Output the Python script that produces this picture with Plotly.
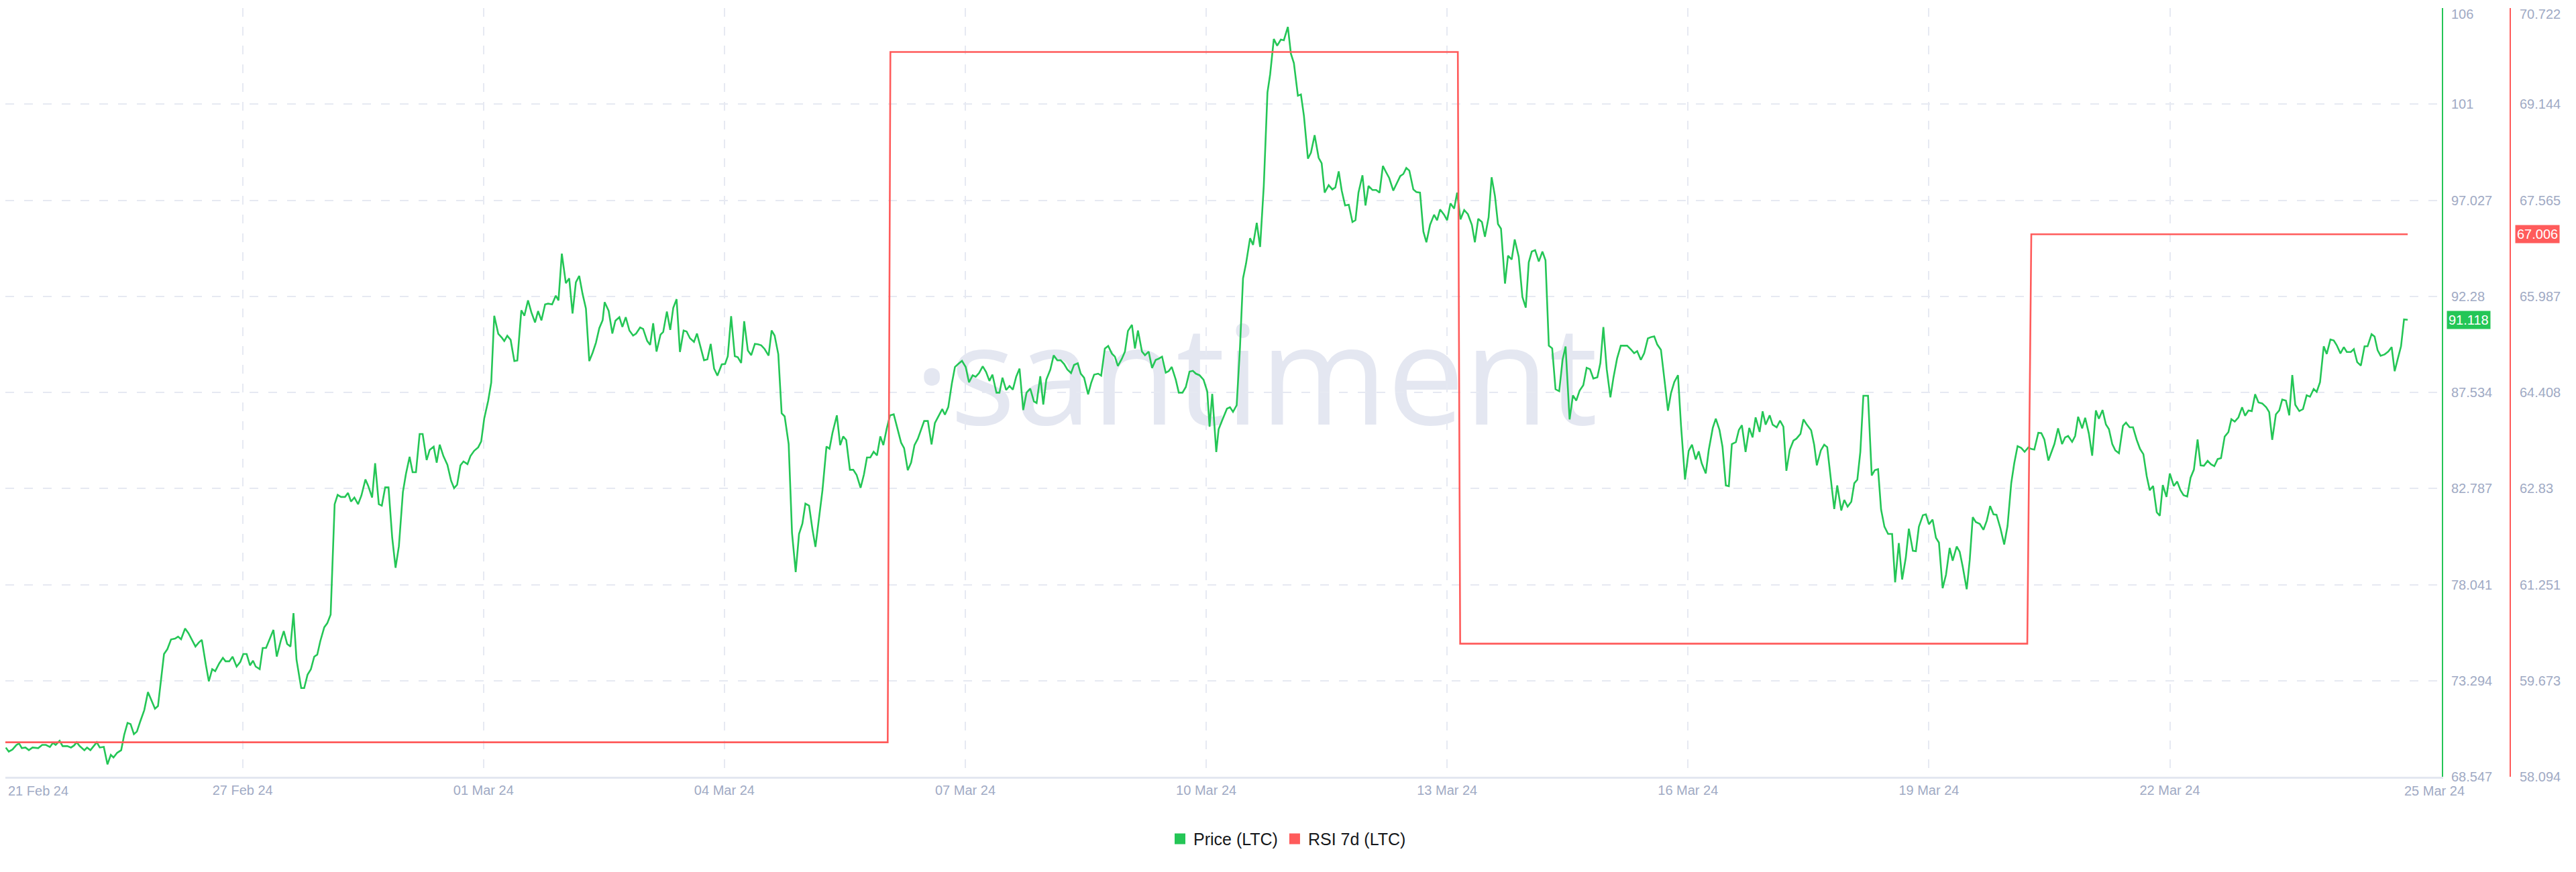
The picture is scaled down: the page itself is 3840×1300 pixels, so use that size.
import numpy as np
import pandas as pd
import plotly.graph_objects as go

# ---------------- data ----------------
START = pd.Timestamp("2024-02-24 00:00")

# hours elapsed since START for each price reading
price_hours = [
    1.2, 2.1, 3.2, 4.4, 5.2, 6.0, 7.1, 8.1, 9.2, 10.9,
    12.1, 13.2, 14.4, 15.3, 16.1, 17.3, 18.2, 19.6, 20.7, 21.6,
    22.4, 23.3, 24.7, 25.5, 26.5, 28.4, 29.3, 30.5, 31.6, 32.6,
    33.4, 34.5, 35.7, 36.6, 37.6, 38.5, 39.5, 40.4, 41.4, 42.6,
    43.7, 44.9, 45.8, 46.7, 47.6, 48.5, 49.5, 50.6, 51.8, 52.7,
    53.6, 54.8, 55.8, 56.9, 57.9, 58.9, 59.8, 61.0, 61.9, 62.9,
    63.8, 65.0, 66.1, 66.9, 68.0, 69.0, 70.2, 71.3, 72.2, 73.2,
    74.2, 75.1, 75.9, 77.1, 78.0, 79.0, 80.2, 81.2, 82.2, 83.4,
    84.3, 85.3, 86.3, 87.2, 88.1, 89.5, 90.4, 91.4, 92.4, 93.4,
    94.3, 95.2, 96.4, 97.3, 98.3, 99.5, 100.4, 101.4, 102.6, 103.5,
    104.4, 105.4, 106.5, 107.5, 108.7, 109.5, 110.7, 111.6, 112.7, 113.6,
    114.6, 115.6, 116.7, 117.7, 118.7, 119.9, 120.8, 121.9, 122.8, 123.8,
    124.9, 125.8, 127.0, 127.9, 129.1, 130.0, 130.9, 132.0, 133.2, 134.3,
    135.2, 136.1, 137.1, 138.0, 139.2, 140.1, 141.2, 142.4, 143.3, 144.2,
    145.4, 146.3, 147.2, 148.4, 149.5, 150.2, 151.1, 152.1, 153.2, 154.1,
    155.3, 156.2, 157.3, 158.3, 159.4, 160.3, 161.3, 162.4, 163.3, 164.5,
    165.6, 166.4,
    167.4, 168.6, 169.6, 170.6, 171.6, 172.6, 173.6, 174.6, 175.6, 176.6,
    177.6, 178.6, 179.6,
    180.2, 181.4, 182.5, 183.4, 184.6, 185.5, 186.5, 187.6, 188.7, 189.6,
    190.8, 191.7, 192.9, 193.8, 194.7, 195.7, 196.9, 197.7, 198.8, 199.8,
    200.7, 201.7, 202.7, 203.8, 204.7, 205.7, 206.9, 207.8, 208.9, 209.9,
    210.9, 211.9, 212.9, 213.9, 215.2, 216.2, 217.0, 218.0, 219.1, 220.0,
    221.0, 221.9, 223.0, 224.0, 225.1, 226.0, 227.0, 228.0, 229.2, 230.1,
    231.0, 232.1, 233.1, 234.0, 235.2, 236.2, 237.3, 238.3, 239.3, 240.2,
    241.3, 242.3, 243.2, 244.3, 245.3, 246.5, 247.4, 248.3, 249.6, 250.6,
    251.5, 252.4, 253.5, 254.5, 255.5, 256.7, 257.7, 258.6, 259.6, 260.6,
    261.6, 262.6, 263.5, 264.5, 265.5, 266.6, 267.6, 268.8, 269.7, 270.8,
    271.8, 272.8, 273.8, 274.7, 275.7, 276.8, 277.9, 278.9, 280.0, 281.1,
    281.9, 282.9, 284.0, 284.9, 285.9, 287.0, 288.1, 289.1, 290.2, 291.1,
    292.1, 293.2, 294.2, 295.2, 296.1, 297.3, 298.2, 299.1, 300.2, 301.2,
    302.2, 303.2, 304.2, 305.3, 306.3, 307.4, 308.5, 309.3, 310.4, 311.3,
    312.2, 313.4, 314.4, 315.5, 316.5, 317.5, 318.5, 319.6, 320.5, 321.6,
    322.5, 323.5, 324.7, 325.6, 326.5, 327.7, 328.6, 329.7, 330.7, 331.8,
    332.7, 333.6, 334.8, 335.7, 336.6, 337.8, 338.7, 339.6, 340.8, 341.7,
    342.8, 343.8, 344.9, 345.8, 346.8, 347.9, 348.8, 349.7, 350.9, 351.8,
    352.9, 353.9, 355.0, 356.0, 356.9, 358.0, 359.2, 360.3,
    361.0, 361.8, 363.0, 363.7, 364.8, 366.2, 367.1, 368.0, 369.1, 370.1,
    371.0, 371.9, 373.1, 374.0, 375.1, 376.1, 377.2, 378.3, 379.1, 380.2,
    381.2, 382.3, 383.2, 384.4, 385.3, 386.2, 387.4, 388.3, 389.2, 390.4,
    391.3, 392.4, 393.6, 394.5, 395.4, 396.6, 397.7, 398.6, 399.6, 400.5,
    401.5, 402.6, 403.7, 404.6, 405.5, 406.7, 407.6, 408.5, 409.7, 410.8,
    411.8, 412.8, 413.6, 414.7, 415.9, 417.0, 418.0, 418.9, 419.8, 420.7,
    421.9, 422.8, 423.9, 424.9, 425.8, 426.9, 428.1, 429.0, 429.9, 431.1,
    432.0, 433.0, 434.1, 435.0, 436.0, 437.1, 438.2, 439.4, 440.3, 441.3,
    442.4, 443.3, 444.4, 445.3, 446.3, 447.2, 448.1, 449.3, 450.2, 451.3,
    452.2, 453.4, 454.5, 455.5, 456.4, 457.3, 458.3, 459.4, 460.5, 461.4,
    462.4, 463.4, 464.4, 465.5, 466.5, 467.4, 468.6, 469.6, 470.6, 471.6,
    472.7, 473.7, 474.7, 475.7, 476.9, 477.8, 478.7, 479.7, 480.8, 481.7,
    482.8, 483.9, 485.8, 487.0, 487.9, 488.8, 489.9, 490.9, 492.0, 493.0,
    493.9, 494.8, 495.9, 497.1, 498.0, 498.9, 499.9, 501.0, 501.9, 503.1,
    504.2, 505.2, 506.3, 507.2, 508.1, 509.3, 510.2, 511.4, 512.3, 513.4,
    514.3, 515.3, 516.2, 517.1, 518.3, 519.2, 520.1, 521.2, 522.3, 523.3,
    524.2, 525.4, 526.3, 527.2, 528.4, 529.3, 530.5, 531.5, 532.5, 533.4,
    534.4, 535.5, 536.4, 537.6, 538.5, 539.4,
    540.8, 541.7, 542.5, 543.7, 544.7, 545.6, 546.6, 547.7, 548.6, 549.8,
    550.7, 551.7, 552.8, 553.7, 554.6, 555.5, 556.4, 557.8, 558.9, 559.8,
    560.8, 561.7, 562.7, 563.8, 565.0, 565.9, 567.0, 568.0, 569.1, 570.0,
    571.2, 572.1, 573.0, 574.2, 575.1, 576.0, 577.1, 578.1, 579.0, 580.1,
    581.1, 582.2, 583.1, 584.3, 585.2, 586.1, 587.3, 588.2, 589.1, 590.0,
    591.2, 592.3, 593.3, 594.3, 595.3, 596.2, 597.4, 598.5, 599.5, 600.6,
    601.5, 602.5, 603.6, 604.6, 605.7, 606.6, 607.5, 608.7, 609.6, 610.5,
    611.7, 612.6, 613.5, 614.6, 615.8, 616.7, 617.6, 618.8, 619.7, 620.6,
    621.8, 622.7, 623.8, 624.8, 625.9, 626.8, 627.9, 628.9, 629.8, 630.8,
    631.7, 632.8, 634.0, 634.9, 636.0, 637.0, 638.1, 639.1, 640.1, 641.1,
    642.0, 643.0, 644.1, 645.0, 645.9, 647.0, 648.0, 649.2, 650.2, 651.2,
    652.1, 653.2, 654.2, 655.2, 656.3, 657.2, 658.2, 659.3, 660.3, 661.3,
    662.3, 663.3, 664.4, 665.5, 666.4, 667.4, 668.5, 669.6, 670.5, 671.5,
    672.5, 673.5, 674.5, 675.6, 676.8, 677.7, 678.6, 679.7, 680.7, 681.6,
    682.7, 683.7, 684.6, 685.5, 686.7, 687.8, 688.9, 689.9, 691.0, 691.9,
    692.9, 694.0, 694.9, 696.0, 697.0, 697.9, 699.0, 700.0, 700.9, 702.1,
    703.0, 704.0, 705.1, 706.2, 707.1, 708.3, 709.2, 710.1, 711.0, 712.2,
    713.3, 714.3, 715.2, 716.1, 717.1, 718.0, 719.1,
]

price_ltc = [
    69.99, 69.79, 69.89, 70.12, 70.19, 69.96, 69.99, 69.86, 69.99, 69.96,
    70.12, 70.12, 70.02, 70.22, 70.12, 70.32, 70.06, 70.06, 69.99, 70.09,
    70.25, 70.06, 69.86, 69.99, 69.86, 70.25, 69.99, 70.02, 69.16, 69.63,
    69.50, 69.73, 69.86, 70.62, 71.21, 71.15, 70.65, 70.78, 71.28, 71.84,
    72.73, 72.27, 71.91, 72.04, 73.43, 74.61, 74.85, 75.33, 75.37, 75.47,
    75.34, 75.87, 75.64, 75.31, 74.98, 75.18, 75.31, 74.09, 73.26, 73.86,
    73.76, 74.15, 74.42, 74.25, 74.25, 74.48, 73.99, 74.22, 74.61, 74.61,
    74.05, 74.28, 73.99, 73.86, 74.91, 74.91, 75.41, 75.80, 74.48, 75.27,
    75.74, 75.11, 74.98, 76.63, 74.33, 72.93, 72.93, 73.59, 73.86, 74.48,
    74.58, 75.24, 75.93, 76.13, 76.56, 82.01, 82.47, 82.37, 82.37, 82.57,
    82.14, 82.34, 82.01, 82.44, 83.23, 82.93, 82.34, 84.03, 82.01, 81.94,
    82.84, 82.84, 80.36, 78.87, 79.93, 82.61, 83.50, 84.35, 83.59, 83.59,
    85.48, 85.48, 84.19, 84.69, 84.85, 84.06, 84.95, 84.39, 83.96, 83.17,
    82.80, 82.97, 83.93, 84.12, 83.99, 84.39, 84.65, 84.82, 85.11, 86.24,
    87.13, 88.02, 91.32, 90.43, 90.23, 90.07, 90.33, 90.13, 89.08, 89.11,
    91.59, 91.32, 92.08, 91.49, 90.99, 91.55, 91.09, 91.88, 91.92, 91.88,
    92.31, 92.08,
    94.39, 92.93, 93.17, 91.43, 92.97, 93.29, 92.40, 91.68, 89.08, 89.49,
    89.99, 90.71, 91.10,
    91.99, 91.56, 90.44, 91.07, 91.25, 90.77, 91.25, 90.59, 90.34, 90.44,
    90.74, 90.67, 90.08, 89.88, 90.95, 89.55, 90.39, 90.52, 91.53, 90.62,
    91.71, 92.14, 89.53, 90.59, 90.54, 90.21, 90.03, 90.44, 89.78, 89.12,
    89.17, 89.93, 88.71, 88.36, 88.92, 88.94, 89.32, 91.30, 89.32, 89.27,
    88.99, 91.05, 89.60, 89.37, 89.93, 89.91, 89.86, 89.68, 89.35, 90.59,
    90.34, 89.42, 86.50, 86.35, 84.98, 80.59, 78.66, 80.54, 81.05, 82.04,
    81.94, 80.77, 79.90, 81.43, 82.70, 84.86, 84.75, 85.54, 86.40, 84.93,
    85.36, 85.18, 83.71, 83.71, 83.46, 82.82, 83.48, 84.32, 84.32, 84.60,
    84.42, 85.36, 84.93, 85.74, 86.40, 86.45, 85.85, 85.05, 84.78, 83.69,
    84.07, 84.93, 85.24, 85.64, 86.12, 86.12, 84.96, 86.02, 86.35, 86.71,
    86.43, 86.81, 88.00, 88.79, 88.94, 89.09, 88.79, 88.03, 88.38, 88.31,
    88.49, 88.82, 88.54, 88.10, 88.41, 87.52, 87.52, 88.26, 87.65, 87.85,
    87.67, 88.31, 88.71, 86.66, 87.52, 87.72, 87.09, 87.01, 88.33, 86.93,
    88.16, 88.66, 89.36, 89.12, 89.12, 88.94, 88.66, 88.49, 88.89, 88.97,
    88.46, 88.26, 87.44, 88.00, 88.41, 88.46, 88.36, 89.70, 89.83, 89.45,
    89.30, 88.84, 89.20, 89.55, 90.57, 90.87, 89.70, 90.59, 89.55, 89.37,
    89.55, 88.74, 89.14, 89.20, 89.30, 88.51, 88.59, 88.79, 88.16, 87.52,
    87.52, 87.80, 88.56, 88.60, 88.46, 88.38, 88.16, 87.58,
    85.84, 87.46, 84.59, 85.71, 86.17, 86.73, 86.80, 86.57, 86.90, 89.80,
    93.17, 93.90, 95.15, 94.82, 95.91, 94.72, 97.73, 102.35, 103.24, 104.99,
    104.66, 104.96, 104.93, 105.59, 104.27, 103.80, 102.19, 102.25, 101.20, 99.08,
    99.38, 100.24, 99.12, 98.85, 97.40, 97.77, 97.56, 97.66, 98.45, 97.50,
    96.77, 96.80, 95.95, 96.04, 97.40, 98.26, 96.77, 97.73, 97.53, 97.53,
    97.40, 98.72, 98.46, 98.12, 97.50, 97.86, 98.22, 98.32, 98.62, 98.49,
    97.56, 97.43, 97.40, 95.48, 94.95, 95.81, 96.31, 96.04, 96.57, 96.31,
    96.04, 96.87, 96.61, 97.40, 96.08, 96.54, 96.34, 95.81, 94.95, 96.11,
    95.95, 95.22, 96.18, 98.16, 97.23, 95.85, 95.62, 92.91, 94.29, 94.10,
    95.09, 94.23, 92.25, 91.72, 93.96, 94.49, 94.56, 94.00, 94.49, 94.06,
    89.84, 89.71, 87.69, 87.59, 89.14, 89.80, 86.20, 87.39, 87.13, 87.62,
    87.89, 88.75, 88.68, 88.22, 88.28, 88.98, 90.76, 88.68, 87.29, 88.25,
    89.21, 89.84, 89.84, 89.64, 89.47, 89.57, 89.14, 89.47, 90.20, 90.27,
    90.30, 89.90, 89.64, 87.95, 86.63, 87.49, 88.05, 88.38, 85.91, 83.23,
    84.65, 84.95, 84.22, 84.62, 84.03, 83.53, 84.69, 85.78, 86.24, 85.68,
    84.85, 82.94, 82.90, 84.98, 85.08, 85.68, 85.91, 84.59, 85.78, 85.31,
    86.30, 85.58, 86.60, 85.94, 86.40, 85.94, 85.81, 86.14, 85.84, 83.66,
    84.69, 85.15, 85.25, 85.48, 86.20, 85.97,
    85.66, 84.95, 83.93, 84.67, 84.95, 84.83, 83.41, 81.77, 82.94, 81.70,
    82.22, 81.89, 82.13, 83.05, 83.22, 84.60, 87.37, 87.37, 83.43, 83.69,
    83.74, 81.75, 80.90, 80.54, 80.54, 78.15, 80.09, 78.29, 79.38, 80.80,
    79.71, 79.69, 80.90, 81.47, 81.51, 81.02, 81.25, 80.35, 80.11, 77.86,
    78.52, 79.85, 79.22, 79.92, 79.66, 78.93, 77.81, 79.26, 81.37, 81.13,
    81.04, 80.75, 81.20, 81.92, 81.51, 81.49, 80.80, 80.02, 80.94, 83.05,
    84.03, 84.88, 84.79, 84.60, 84.81, 84.74, 84.71, 85.54, 85.52, 85.21,
    84.17, 84.55, 84.98, 85.76, 84.98, 85.31, 85.38, 85.09, 85.38, 86.33,
    85.76, 86.28, 85.50, 84.41, 86.64, 86.23, 86.66, 85.95, 85.72, 84.98,
    84.67, 84.53, 85.88, 86.04, 85.81, 85.81, 85.19, 84.74, 84.48, 83.39,
    82.70, 82.91, 81.61, 81.44, 82.96, 82.37, 83.53, 82.91, 83.13, 82.70,
    82.46, 82.39, 83.32, 83.72, 85.21, 83.93, 83.91, 84.15, 83.98, 83.89,
    84.24, 84.29, 85.35, 85.57, 86.21, 86.09, 86.30, 86.80, 86.38, 86.64,
    86.61, 87.44, 87.04, 86.99, 86.80, 86.56, 85.19, 86.45, 86.64, 87.18,
    87.13, 86.40, 88.39, 86.92, 86.61, 86.71, 87.39, 87.32, 87.70, 87.56,
    88.04, 89.81, 89.43, 90.15, 90.10, 89.86, 89.46, 89.77, 89.53, 89.53,
    89.67, 89.03, 88.86, 89.81, 89.81, 90.41, 90.29, 89.62, 89.34, 89.41,
    89.55, 89.77, 88.58, 89.17, 89.81, 91.14, 91.118,
]

rsi_hours = [-0.5, 264.8, 265.6, 435.2, 435.9, 605.4, 606.6, 719.1]
rsi_7d = [58.66, 58.66, 70.0, 70.0, 60.28, 60.28, 67.006, 67.006]

x_tick_dates = ["2024-02-24", "2024-02-27", "2024-03-01", "2024-03-04", "2024-03-07",
                "2024-03-10", "2024-03-13", "2024-03-16", "2024-03-19", "2024-03-22"]
x_tick_labels = ["", "27 Feb 24", "01 Mar 24", "04 Mar 24", "07 Mar 24",
                 "10 Mar 24", "13 Mar 24", "16 Mar 24", "19 Mar 24", "22 Mar 24"]
first_date_label = "21 Feb 24"
last_date_label = "25 Mar 24"

price_min, price_max = 68.547, 106.52
price_tick_labels = ["68.547", "73.294", "78.041", "82.787", "87.534",
                     "92.28", "97.027", "101", "106"]
rsi_min, rsi_max = 58.094, 70.722
rsi_tick_labels = ["58.094", "59.673", "61.251", "62.83", "64.408",
                   "65.987", "67.565", "69.144", "70.722"]

last_price_label = "91.118"
last_rsi_label = "67.006"

assert len(price_hours) == len(price_ltc)

# ---------------- styling ----------------
# The page body has an 8px margin, so the figure is sized/placed to compensate.
OFF = 8
W, H = 3840 - OFF, 1300 - OFF
PLOT_RIGHT = 3640 - OFF          # green (price) axis, page x 3640
RSI_AXIS_X = 3742 - OFF          # red (RSI) axis, page x 3742
GREEN = "#24c656"
RED = "#ff5b5b"
TICK_COLOR = "#9faac4"
GRID_COLOR = "#e6e9f2"
FONT = "Liberation Sans, Arial, sans-serif"


def px(page_x):
    """page x (px) -> paper fraction"""
    return (page_x - OFF) / W


price_tickvals = list(np.linspace(price_min, price_max, 9))
rsi_tickvals = list(np.linspace(rsi_min, rsi_max, 9))
EPS = 1e-6
price_range = [price_min - EPS, price_max + EPS]
rsi_range = [rsi_min - EPS, rsi_max + EPS]
# the topmost labels sit at the page edge; they are drawn as annotations below
price_ticktext = price_tick_labels[:-1] + [""]
rsi_ticktext = rsi_tick_labels[:-1] + [""]

t_price = START + pd.to_timedelta(price_hours, unit="h")
t_rsi = START + pd.to_timedelta(rsi_hours, unit="h")

fig = go.Figure()
fig.add_trace(go.Scatter(x=t_price, y=price_ltc, mode="lines", name="Price (LTC)",
                         line=dict(color=GREEN, width=2.6), yaxis="y", showlegend=False))
fig.add_trace(go.Scatter(x=t_rsi, y=rsi_7d, mode="lines", name="RSI 7d (LTC)",
                         line=dict(color=RED, width=2.6), yaxis="y2", showlegend=False))
# legend entries (square swatches)
fig.add_trace(go.Scatter(x=[None], y=[None], mode="markers", name="Price (LTC)",
                         marker=dict(symbol="square", size=18, color=GREEN, line=dict(width=0))))
fig.add_trace(go.Scatter(x=[None], y=[None], mode="markers", name="RSI 7d (LTC)",
                         marker=dict(symbol="square", size=18, color=RED, line=dict(width=0))))

x_start = START + pd.Timedelta(minutes=65)
x_end = START + pd.Timedelta(hours=729.3)

fig.update_layout(
    width=W, height=H,
    margin=dict(l=0, r=0, t=4, b=142),
    paper_bgcolor="white", plot_bgcolor="white",
    font=dict(family=FONT, color=TICK_COLOR, size=20),
    xaxis=dict(
        domain=[0, PLOT_RIGHT / W], type="date", range=[x_start, x_end],
        tickmode="array", tickvals=x_tick_dates, ticktext=x_tick_labels,
        showgrid=True, gridcolor=GRID_COLOR, gridwidth=2, griddash="13px,15px",
        showline=True, linecolor="#e3e7f0", linewidth=3,
        zeroline=False, ticks="", ticklabelstandoff=0,
        tickfont=dict(size=20, color=TICK_COLOR, family=FONT),
        automargin=False,
    ),
    yaxis=dict(
        side="right", anchor="x", range=price_range,
        tickmode="array", tickvals=price_tickvals, ticktext=price_ticktext,
        showgrid=True, gridcolor=GRID_COLOR, gridwidth=2, griddash="13px,15px",
        showline=True, linecolor=GREEN, linewidth=2,
        zeroline=False, ticks="", ticklabelstandoff=8, ticklabeloverflow="allow",
        tickfont=dict(size=20, color=TICK_COLOR, family=FONT),
        automargin=False,
    ),
    yaxis2=dict(
        overlaying="y", side="right", anchor="free", position=RSI_AXIS_X / W,
        range=rsi_range,
        tickmode="array", tickvals=rsi_tickvals, ticktext=rsi_ticktext,
        showgrid=False, showline=True, linecolor=RED, linewidth=2,
        zeroline=False, ticks="", ticklabelstandoff=9, ticklabeloverflow="allow",
        tickfont=dict(size=20, color=TICK_COLOR, family=FONT),
        automargin=False,
    ),
    legend=dict(
        orientation="h", x=px(1920), xanchor="center", y=-0.081, yanchor="middle",
        font=dict(size=25, color="#15171a", family=FONT),
        bgcolor="rgba(0,0,0,0)", itemclick=False,
    ),
    showlegend=True,
)

# watermark (behind the data)
fig.add_shape(
    type="rect", xref="paper", yref="paper",
    x0=px(1872) - 0.1, x1=px(1872) + 0.1, y0=0.42, y1=0.61,
    line=dict(width=0), fillcolor="rgba(0,0,0,0)", layer="below",
    label=dict(text="·santiment", textposition="middle center",
               font=dict(family="Open Sans, Noto Sans, sans-serif", size=205, color="#e4e7f1")),
)

# topmost axis labels, kept inside the page
TOP_Y = 1 + 3 / 1146
fig.add_annotation(xref="paper", yref="paper", x=px(3653), y=TOP_Y, xanchor="left", yanchor="top",
                   text=price_tick_labels[-1], showarrow=False, borderpad=0,
                   font=dict(size=20, color=TICK_COLOR, family=FONT))
fig.add_annotation(xref="paper", yref="paper", x=px(3755), y=TOP_Y, xanchor="left", yanchor="top",
                   text=rsi_tick_labels[-1], showarrow=False, borderpad=0,
                   font=dict(size=20, color=TICK_COLOR, family=FONT))

# first / last date labels
fig.add_annotation(xref="paper", yref="paper", x=px(10), y=-0.0183, xanchor="left", yanchor="middle",
                   text=first_date_label, showarrow=False,
                   font=dict(size=20, color=TICK_COLOR, family=FONT))
fig.add_annotation(xref="paper", yref="paper", x=px(3629), y=-0.0183, xanchor="center", yanchor="middle",
                   text=last_date_label, showarrow=False,
                   font=dict(size=20, color=TICK_COLOR, family=FONT))

# current value badges
fig.add_annotation(xref="paper", yref="y", x=px(3647), y=price_ltc[-1], xanchor="left", yanchor="middle",
                   text=last_price_label, showarrow=False, bgcolor=GREEN, borderpad=2,
                   font=dict(size=20, color="white", family=FONT))
fig.add_annotation(xref="paper", yref="y2", x=px(3749), y=rsi_7d[-1], xanchor="left", yanchor="middle",
                   text=last_rsi_label, showarrow=False, bgcolor=RED, borderpad=2,
                   font=dict(size=20, color="white", family=FONT))

fig.write_html("out.html")
